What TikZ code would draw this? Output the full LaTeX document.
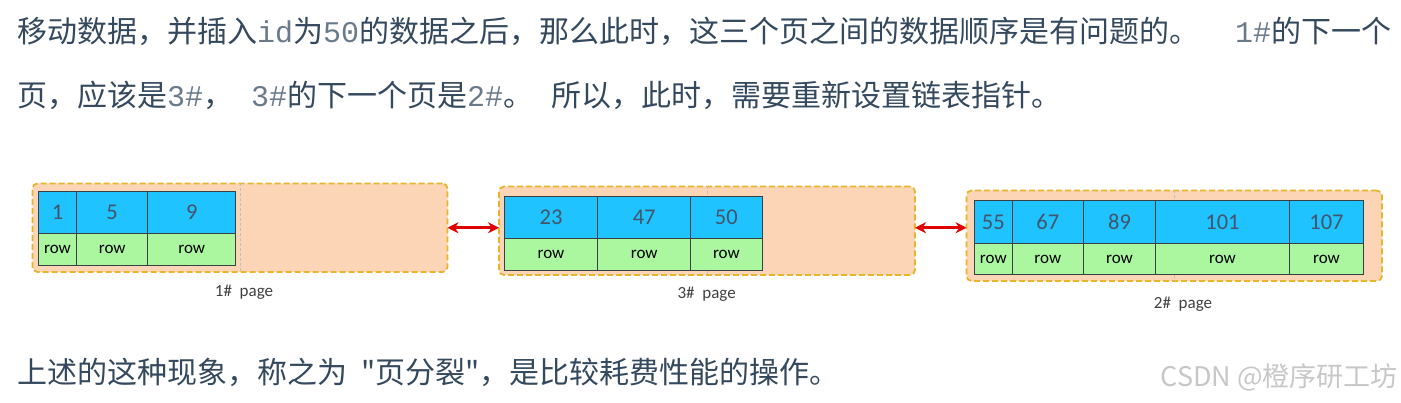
\documentclass[tikz,border=0pt]{standalone}
\usepackage{fontspec}
\usepackage{tikz}
\usetikzlibrary{arrows.meta,positioning,calc}
\newfontfamily\cjk{Noto Sans CJK SC}
\newfontfamily\monofnt{Liberation Mono}
\newfontfamily\calib{Carlito}
\definecolor{tslate}{HTML}{34495E}
\definecolor{tmono}{HTML}{6A7A8B}
\definecolor{pfill}{HTML}{FBD5B5}
\definecolor{pedge}{HTML}{E8B52A}
\definecolor{kblue}{HTML}{1FC3FF}
\definecolor{rgreen}{HTML}{AAF7A0}
\definecolor{knum}{HTML}{44546A}
\definecolor{cellline}{HTML}{3A3F44}
\definecolor{lblgray}{HTML}{404040}
\definecolor{lred}{HTML}{E00000}
\newcommand{\mono}[1]{{\monofnt\color{tmono}#1}}

\begin{document}
\begin{tikzpicture}[x=1pt,y=-1pt,
  bodytext/.style={anchor=base west, inner sep=0pt, text=tslate, font=\cjk\fontsize{30}{36}\selectfont},
  pagebox/.style={draw=pedge, fill=pfill, line width=1.8pt, dash pattern=on 6pt off 3pt, rounded corners=5pt, inner sep=0pt, outer sep=0pt},
  midline/.style={draw=black!25, line width=0.6pt, dash pattern=on 3pt off 2pt},
  keycell/.style={draw=cellline, fill=kblue, line width=0.9pt, minimum height=42.5pt, inner sep=0pt, outer sep=0pt, text=knum, font=\calib\fontsize{22.5}{24}\selectfont},
  rowcell/.style={draw=cellline, fill=rgreen, line width=0.9pt, minimum height=31.5pt, inner sep=0pt, outer sep=0pt, font=\calib\fontsize{17}{20}\selectfont},
  pagelbl/.style={inner sep=0pt, text=lblgray, font=\calib\fontsize{17}{20}\selectfont},
  linkarrow/.style={draw=lred, line width=2.8pt, {Stealth[length=11pt,width=11pt]}-{Stealth[length=11pt,width=11pt]}}]
 \useasboundingbox (0,0) rectangle (1401,403);
 % explanation text
 \node[bodytext] (t1) at (17,43) {移动数据，并插入\mono{id}为\mono{50}的数据之后，那么此时，这三个页之间的数据顺序是有问题的。\mono{\ \ 1\#}的下一个};
 \node[bodytext] (t2) at (17,106.5) {页，应该是\mono{3\#}，\mono{\ 3\#}的下一个页是\mono{2\#}。\mono{\ }所以，此时，需要重新设置链表指针。};
 \node[bodytext] (t3) at (17,383.5) {上述的这种现象，称之为\hspace{14pt}"页分裂"，是比较耗费性能的操作。};
 \node[anchor=base east, inner sep=0pt, text=black!22, font=\cjk\fontsize{27}{30}\selectfont] (wm) at (1398,387) {CSDN @橙序研工坊};
 % pages
 \node[pagebox, minimum width=415pt, minimum height=88.5pt] (p1) at (240,227.75) {};
 \node[pagebox, minimum width=416pt, minimum height=88.5pt] (p3) at (707,230.75) {};
 \node[pagebox, minimum width=415.5pt, minimum height=90.5pt] (p2) at (1174.25,235.75) {};
 \foreach \p in {p1,p3,p2} \draw[midline] (\p.north) -- (\p.south);
 % records
 \foreach \l/\r/\k [count=\i] in {38.3/76.7/1,76.7/147.7/5,147.7/235.7/9}{
  \pgfmathsetmacro\w{\r-\l}
  \node[keycell, minimum width=\w pt] (a\i) at ({(\l+\r)/2},212.25) {\k};
  \node[rowcell, minimum width=\w pt, below=0pt of a\i] (ra\i) {row};
 }
 \foreach \l/\r/\k [count=\i] in {504.3/597.7/23,597.7/690.7/47,690.7/762/50}{
  \pgfmathsetmacro\w{\r-\l}
  \node[keycell, minimum width=\w pt] (c\i) at ({(\l+\r)/2},217.25) {\k};
  \node[rowcell, minimum width=\w pt, below=0pt of c\i] (rc\i) {row};
 }
 \foreach \l/\r/\k [count=\i] in {974.3/1012.3/55,1012.3/1083.3/67,1083.3/1155.7/89,1155.7/1289.3/101,1289.3/1363.7/107}{
  \pgfmathsetmacro\w{\r-\l}
  \node[keycell, minimum width=\w pt] (b\i) at ({(\l+\r)/2},222) {\k};
  \node[rowcell, minimum width=\w pt, below=0pt of b\i] (rb\i) {row};
 }
 \node[pagelbl] (l1) at (244,292) {1\#\ \ page};
 \node[pagelbl] (l3) at (706.7,294) {3\#\ \ page};
 \node[pagelbl] (l2) at (1183,304) {2\#\ \ page};
 % page links
 \draw[linkarrow] (p1.east) -- (p1.east -| p3.west);
 \draw[linkarrow] (p3.east |- p1.east) -- (p1.east -| p2.west);
\end{tikzpicture}
\end{document}
